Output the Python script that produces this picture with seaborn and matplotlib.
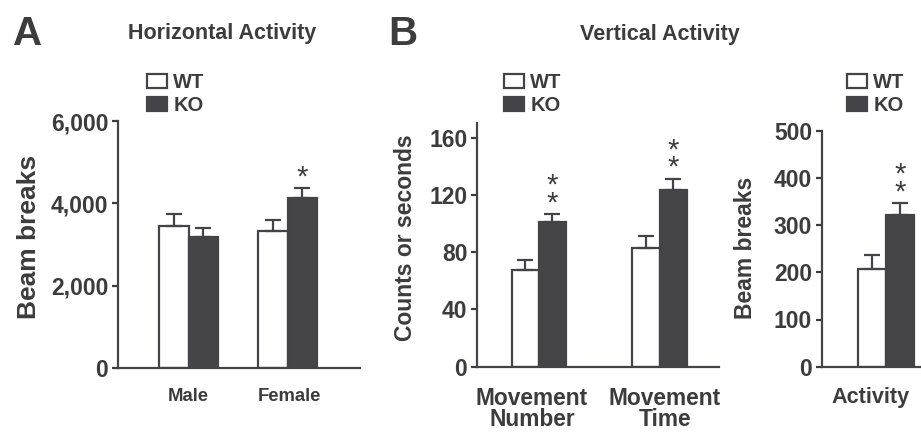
import numpy as np
import pandas as pd
import matplotlib
matplotlib.use("Agg")
import matplotlib.pyplot as plt
import matplotlib.transforms as mtransforms
import seaborn as sns
from matplotlib.patches import Patch

# values (means and upward SEM)
horiz_groups = ["Male", "Female"]
horiz_wt = [3450, 3320]
horiz_wt_sem = [300, 275]
horiz_ko = [3180, 4120]
horiz_ko_sem = [210, 245]
horiz_sig = ["", "*"]

vert_groups = ["Movement\nNumber", "Movement\nTime"]
vert_wt = [67.6, 82.7]
vert_wt_sem = [7.2, 8.8]
vert_ko = [101.0, 123.4]
vert_ko_sem = [5.4, 7.5]
vert_sig = ["**", "**"]

act_groups = ["Activity"]
act_wt = [208]
act_wt_sem = [28]
act_ko = [321]
act_ko_sem = [25]
act_sig = ["**"]

genotypes = ["WT", "KO"]

DARK = "#444448"
TXT = "#3c3c3c"

sns.set_theme(style="ticks")
plt.rcParams["font.family"] = ["Liberation Sans", "DejaVu Sans"]
plt.rcParams["font.weight"] = "bold"
plt.rcParams["text.color"] = TXT
plt.rcParams["axes.labelcolor"] = TXT
plt.rcParams["xtick.color"] = TXT
plt.rcParams["ytick.color"] = TXT


def make_df(groups, wt, ko):
    return pd.DataFrame({
        "group": list(groups) * 2,
        "genotype": ["WT"] * len(groups) + ["KO"] * len(groups),
        "value": list(wt) + list(ko),
    })


def draw_panel(ax, groups, wt, wt_sem, ko, ko_sem, sig, width, xlim, ylim, yticks,
               yticklabels, ylabel, ylabel_size, ylabel_xy, xfont, label_shift, legend_xy):
    df = make_df(groups, wt, ko)
    sns.barplot(data=df, x="group", y="value", hue="genotype", hue_order=genotypes,
                palette={"WT": "white", "KO": DARK}, edgecolor=DARK, linewidth=1.6,
                width=width, errorbar=None, legend=False, ax=ax)
    for cont, means, sems in zip(ax.containers, [wt, ko], [wt_sem, ko_sem]):
        xs = [p.get_x() + p.get_width() / 2 for p in cont]
        ax.errorbar(xs, means, yerr=[np.zeros(len(sems)), sems], fmt="none",
                    ecolor=DARK, elinewidth=1.6, capsize=5.5, capthick=1.6, zorder=3)
    # significance stars above the KO bars
    ko_x = [p.get_x() + p.get_width() / 2 for p in ax.containers[1]]
    for x, m, s, mark in zip(ko_x, ko, ko_sem, sig):
        if mark:
            ax.annotate("\n".join(mark), xy=(x, m + s), xytext=(0, -2),
                        textcoords="offset points", ha="center", va="bottom",
                        fontsize=21, fontweight="normal", color=TXT, linespacing=0.54)
    ax.set_xlim(*xlim)
    ax.set_ylim(*ylim)
    ax.set_yticks(yticks)
    ax.set_yticklabels(yticklabels, fontsize=16.5, fontweight="bold")
    ax.tick_params(axis="y", length=4, width=1.6, pad=3)
    ax.tick_params(axis="x", length=0, pad=14.5, labelsize=xfont)
    for lab, dx in zip(ax.get_xticklabels(), label_shift):
        lab.set_fontweight("bold")
        lab.set_linespacing(0.9)
        lab.set_transform(lab.get_transform()
                          + mtransforms.ScaledTranslation(dx / 100, 0, fig.dpi_scale_trans))
    ax.set_xlabel("")
    ax.set_ylabel(ylabel, fontsize=ylabel_size, fontweight="bold")
    ax.yaxis.set_label_coords(*ylabel_xy)
    sns.despine(ax=ax)
    for sp in ["left", "bottom"]:
        ax.spines[sp].set_linewidth(1.6)
        ax.spines[sp].set_color(DARK)
    handles = [Patch(facecolor="white", edgecolor=DARK, linewidth=1.6),
               Patch(facecolor=DARK, edgecolor=DARK, linewidth=1.6)]
    leg = ax.legend(handles, genotypes, loc="upper left", frameon=False,
                    bbox_to_anchor=legend_xy, bbox_transform=fig.transFigure,
                    borderpad=0, borderaxespad=0, handlelength=1.0, handleheight=0.7,
                    handletextpad=0.3, labelspacing=0.2,
                    prop={"size": 14.5, "weight": "bold"})
    for t in leg.get_texts():
        t.set_color(TXT)


W, H = 921, 432
fig = plt.figure(figsize=(W / 100, H / 100), dpi=100)
axA = fig.add_axes([118 / W, 1 - 368 / H, 242 / W, 247 / H])
axB = fig.add_axes([477 / W, 1 - 366.7 / H, 242 / W, 243.4 / H])
axC = fig.add_axes([821.7 / W, 1 - 366.7 / H, 99.3 / W, 236 / H])

draw_panel(axA, horiz_groups, horiz_wt, horiz_wt_sem, horiz_ko, horiz_ko_sem, horiz_sig,
           0.6, (-0.712, 1.732), (0, 6000), [0, 2000, 4000, 6000],
           ["0", "2,000", "4,000", "6,000"], "Beam breaks", 19, (-0.318, 0.53), 13.3,
           [0, 2], (147 / W, 1 - 73 / H))
draw_panel(axB, vert_groups, vert_wt, vert_wt_sem, vert_ko, vert_ko_sem, vert_sig,
           0.45, (-0.513, 1.493), (0, 170), [0, 40, 80, 120, 160],
           ["0", "40", "80", "120", "160"], "Counts or seconds", 16.5, (-0.248, 0.529), 16.4,
           [-7, 5.5], (504 / W, 1 - 73 / H))
draw_panel(axC, act_groups, act_wt, act_wt_sem, act_ko, act_ko_sem, act_sig,
           0.8, (-0.923, 0.496), (0, 500), [0, 100, 200, 300, 400, 500],
           ["0", "100", "200", "300", "400", "500"], "Beam breaks", 16.5, (-0.647, 0.503), 15.6,
           [-16], (847 / W, 1 - 73 / H))

fig.text(28 / W, 1 - 34 / H, "A", fontsize=29, fontweight="bold", ha="center", va="center")
fig.text(402.5 / W, 1 - 34 / H, "B", fontsize=29, fontweight="bold", ha="center", va="center")
fig.text(221.7 / W, 1 - 39.5 / H, "Horizontal Activity", fontsize=15.5, fontweight="bold",
         ha="center", va="baseline")
fig.text(660 / W, 1 - 40 / H, "Vertical Activity", fontsize=15.5, fontweight="bold",
         ha="center", va="baseline")

fig.savefig("out.png", dpi=100)
